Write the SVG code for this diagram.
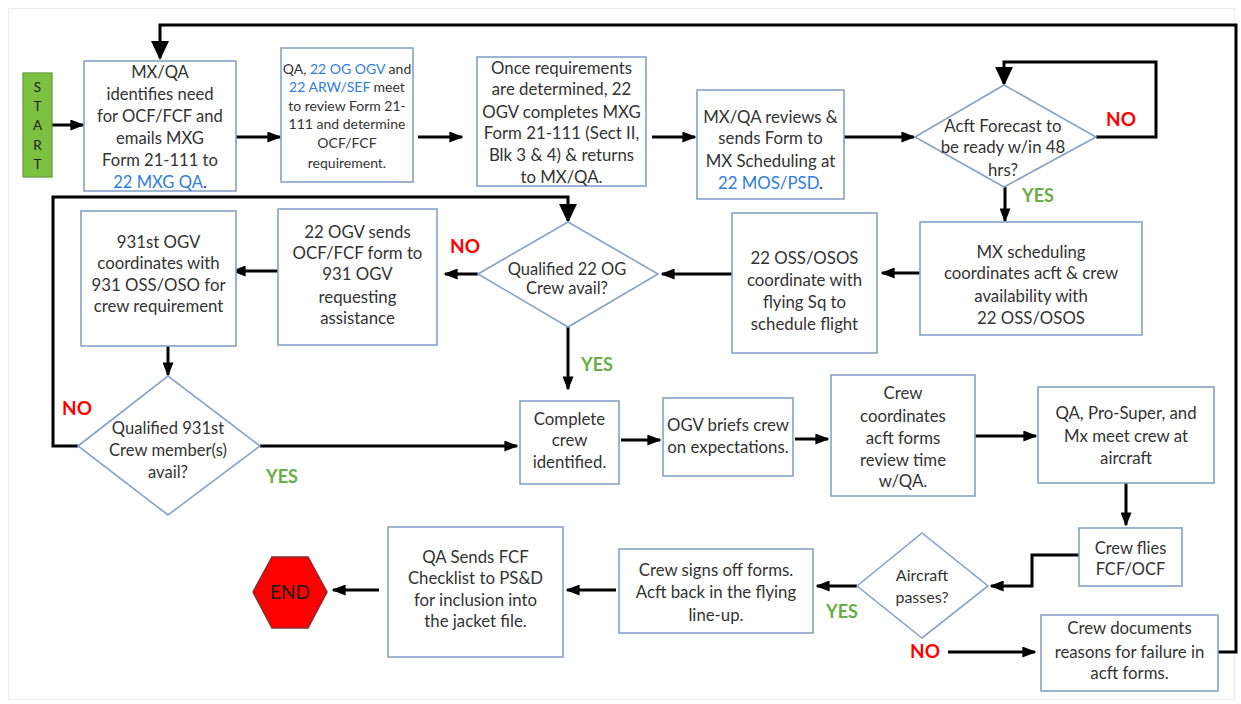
<svg xmlns="http://www.w3.org/2000/svg" width="1241" height="704" viewBox="0 0 1241 704">
<style>
.box{fill:#fff;stroke:#86a3c6;stroke-width:1.6}
.t{font-family:Lato,"Liberation Sans",sans-serif;fill:#333;text-anchor:middle}
.blue{fill:#2e7de0}
.no{font-family:Lato,"Liberation Sans",sans-serif;font-weight:bold;fill:#ff0000;font-size:19px;text-anchor:middle}
.yes{font-family:Lato,"Liberation Sans",sans-serif;font-weight:bold;fill:#6aac46;font-size:18px;text-anchor:middle}
.c{fill:none;stroke:#000;stroke-width:3}
.s{marker-end:url(#ah)}
.b{marker-end:url(#ahb)}
</style>
<defs>
<marker id="ah" viewBox="0 0 10 10" refX="9" refY="5" markerWidth="14" markerHeight="11" markerUnits="userSpaceOnUse" orient="auto" preserveAspectRatio="none"><path d="M0,0 L10,5 L0,10 z" fill="#000"/></marker>
<marker id="ahb" viewBox="0 0 10 10" refX="9" refY="5" markerWidth="19" markerHeight="18" markerUnits="userSpaceOnUse" orient="auto" preserveAspectRatio="none"><path d="M0,0 L10,5 L0,10 z" fill="#000"/></marker>
</defs>
<rect x="0" y="0" width="1241" height="704" fill="#fff"/>
<rect x="8.5" y="8.5" width="1226" height="691" fill="none" stroke="#ececec" stroke-width="1"/>

<g id="connectors">
<path class="c s" d="M52,125 H83"/>
<path class="c s" d="M236,137 H280"/>
<path class="c s" d="M418,137 H462"/>
<path class="c s" d="M652,137 H695"/>
<path class="c s" d="M844,137 H914"/>
<path class="c b" d="M1096,137 H1156 V62 H1004 V84"/>
<path class="c s" d="M1005,187 V221"/>
<path class="c s" d="M920,273 H882"/>
<path class="c s" d="M732,274 H662"/>
<path class="c s" d="M478,274 H445"/>
<path class="c s" d="M278,271 H233"/>
<path class="c s" d="M168,346 V375"/>
<path class="c b" d="M78,446 H53 V197 H568 V221"/>
<path class="c s" d="M260,446 H517"/>
<path class="c s" d="M568,327 V389"/>
<path class="c s" d="M621,440 H660"/>
<path class="c s" d="M795,439 H828"/>
<path class="c s" d="M975,436 H1036"/>
<path class="c s" d="M1126,483 V525"/>
<path class="c s" d="M1079,555 H1032 V586 H991"/>
<path class="c s" d="M857,586 H817"/>
<path class="c s" d="M616,590 H567"/>
<path class="c s" d="M379,590 H333"/>
<path class="c s" d="M948,652 H1035"/>
<path class="c b" d="M1218,652 H1236 V25 H160 V58"/>
</g>

<g id="start">
<rect x="23" y="73" width="29" height="104" fill="#7dc142" stroke="#5f9a33" stroke-width="1.2"/>
<text class="t" font-size="13.5" x="37.5" y="92" style="fill:#222">S</text>
<text class="t" font-size="13.5" x="37.5" y="111" style="fill:#222">T</text>
<text class="t" font-size="13.5" x="37.5" y="130" style="fill:#222">A</text>
<text class="t" font-size="13.5" x="37.5" y="150" style="fill:#222">R</text>
<text class="t" font-size="13.5" x="37.5" y="169" style="fill:#222">T</text>
</g>

<g id="n1">
<rect class="box" x="84" y="61" width="152" height="130"/>
<text class="t" font-size="16.6" x="160" y="78">MX/QA</text>
<text class="t" font-size="16.6" x="160" y="99.5">identifies need</text>
<text class="t" font-size="16.6" x="160" y="121.5">for OCF/FCF and</text>
<text class="t" font-size="16.6" x="160" y="143.5">emails MXG</text>
<text class="t" font-size="16.6" x="160" y="165.5">Form 21-111 to</text>
<text class="t" font-size="16.6" x="160" y="188"><tspan class="blue">22 MXG QA</tspan>.</text>
</g>

<g id="n2">
<rect class="box" x="281" y="48" width="132" height="134"/>
<text class="t" font-size="14" x="347" y="74">QA, <tspan class="blue">22 OG OGV</tspan> and</text>
<text class="t" font-size="14" x="347" y="92"><tspan class="blue">22 ARW/SEF</tspan> meet</text>
<text class="t" font-size="14" x="347" y="111">to review Form 21-</text>
<text class="t" font-size="14" x="347" y="129">111 and determine</text>
<text class="t" font-size="14" x="347" y="148">OCF/FCF</text>
<text class="t" font-size="14" x="347" y="168">requirement.</text>
</g>

<g id="n3">
<rect class="box" x="477" y="57" width="169" height="129"/>
<text class="t" font-size="16.8" x="561.5" y="74">Once requirements</text>
<text class="t" font-size="16.8" x="561.5" y="95">are determined, 22</text>
<text class="t" font-size="16.8" x="561.5" y="118">OGV completes MXG</text>
<text class="t" font-size="16.8" x="561.5" y="139">Form 21-111 (Sect II,</text>
<text class="t" font-size="16.8" x="561.5" y="161">Blk 3 &amp; 4) &amp; returns</text>
<text class="t" font-size="16.8" x="561.5" y="183">to MX/QA.</text>
</g>

<g id="n4">
<rect class="box" x="697" y="90" width="147" height="109"/>
<text class="t" font-size="16.8" x="770.5" y="123">MX/QA reviews &amp;</text>
<text class="t" font-size="16.8" x="770.5" y="144">sends Form to</text>
<text class="t" font-size="16.8" x="770.5" y="167">MX Scheduling at</text>
<text class="t" font-size="16.8" x="770.5" y="189"><tspan class="blue">22 MOS/PSD</tspan>.</text>
</g>

<g id="d1">
<polygon class="box" points="915,137 1004,85 1096,137 1004,187"/>
<text class="t" font-size="16.8" x="1003" y="131.5">Acft Forecast to</text>
<text class="t" font-size="16.8" x="1003" y="152.5">be ready w/in 48</text>
<text class="t" font-size="16.8" x="1003" y="175.5">hrs?</text>
</g>

<g id="n5">
<rect class="box" x="920" y="222" width="222" height="113"/>
<text class="t" font-size="16.8" x="1031" y="258">MX scheduling</text>
<text class="t" font-size="16.8" x="1031" y="279">coordinates acft &amp; crew</text>
<text class="t" font-size="16.8" x="1031" y="302">availability with</text>
<text class="t" font-size="16.8" x="1031" y="324">22 OSS/OSOS</text>
</g>

<g id="n6">
<rect class="box" x="732" y="213" width="145" height="140"/>
<text class="t" font-size="16.8" x="804.5" y="264">22 OSS/OSOS</text>
<text class="t" font-size="16.8" x="804.5" y="286">coordinate with</text>
<text class="t" font-size="16.8" x="804.5" y="308">flying Sq to</text>
<text class="t" font-size="16.8" x="804.5" y="330">schedule flight</text>
</g>

<g id="d2">
<polygon class="box" points="478,274 568,222 658,274 568,327"/>
<text class="t" font-size="16.5" x="567" y="274.5">Qualified 22 OG</text>
<text class="t" font-size="16.5" x="567" y="293.5">Crew avail?</text>
</g>

<g id="n7">
<rect class="box" x="278" y="209" width="159" height="136"/>
<text class="t" font-size="16.8" x="357.5" y="238">22 OGV sends</text>
<text class="t" font-size="16.8" x="357.5" y="259">OCF/FCF form to</text>
<text class="t" font-size="16.8" x="357.5" y="280">931 OGV</text>
<text class="t" font-size="16.8" x="357.5" y="303">requesting</text>
<text class="t" font-size="16.8" x="357.5" y="324">assistance</text>
</g>

<g id="n8">
<rect class="box" x="81" y="211" width="155" height="135"/>
<text class="t" font-size="16.8" x="158.5" y="248">931st OGV</text>
<text class="t" font-size="16.8" x="158.5" y="269">coordinates with</text>
<text class="t" font-size="16.8" x="158.5" y="291">931 OSS/OSO for</text>
<text class="t" font-size="16.8" x="158.5" y="312">crew requirement</text>
</g>

<g id="d3">
<polygon class="box" points="78,446 168,376 260,446 168,515"/>
<text class="t" font-size="16.6" x="168" y="433.5">Qualified 931st</text>
<text class="t" font-size="16.6" x="168" y="455.5">Crew member(s)</text>
<text class="t" font-size="16.6" x="168" y="477.5">avail?</text>
</g>

<g id="n9">
<rect class="box" x="520" y="401" width="99" height="83"/>
<text class="t" font-size="16.8" x="569.5" y="425">Complete</text>
<text class="t" font-size="16.8" x="569.5" y="446">crew</text>
<text class="t" font-size="16.8" x="569.5" y="468">identified.</text>
</g>

<g id="n10">
<rect class="box" x="663" y="398" width="130" height="78"/>
<text class="t" font-size="16.8" x="728" y="431">OGV briefs crew</text>
<text class="t" font-size="16.8" x="728" y="453">on expectations.</text>
</g>

<g id="n11">
<rect class="box" x="831" y="375" width="144" height="121"/>
<text class="t" font-size="16.8" x="903" y="399">Crew</text>
<text class="t" font-size="16.8" x="903" y="422">coordinates</text>
<text class="t" font-size="16.8" x="903" y="444">acft forms</text>
<text class="t" font-size="16.8" x="903" y="466">review time</text>
<text class="t" font-size="16.8" x="903" y="487">w/QA.</text>
</g>

<g id="n12">
<rect class="box" x="1038" y="387" width="176" height="96"/>
<text class="t" font-size="16.8" x="1126" y="419">QA, Pro-Super, and</text>
<text class="t" font-size="16.8" x="1126" y="442">Mx meet crew at</text>
<text class="t" font-size="16.8" x="1126" y="464">aircraft</text>
</g>

<g id="n13">
<rect class="box" x="1079" y="528" width="103" height="58"/>
<text class="t" font-size="16.5" x="1130.5" y="554">Crew flies</text>
<text class="t" font-size="16.5" x="1130.5" y="575">FCF/OCF</text>
</g>

<g id="d4">
<polygon class="box" points="857,586 922,533 988,586 922,638"/>
<text class="t" font-size="16" x="922" y="580.5">Aircraft</text>
<text class="t" font-size="16" x="922" y="602.5">passes?</text>
</g>

<g id="n14">
<rect class="box" x="619" y="549" width="194" height="84"/>
<text class="t" font-size="16.8" x="716" y="576">Crew signs off forms.</text>
<text class="t" font-size="16.8" x="716" y="598">Acft back in the flying</text>
<text class="t" font-size="16.8" x="716" y="621">line-up.</text>
</g>

<g id="n15">
<rect class="box" x="388" y="527" width="175" height="130"/>
<text class="t" font-size="16.8" x="475.5" y="563">QA Sends FCF</text>
<text class="t" font-size="16.8" x="475.5" y="584">Checklist to PS&amp;D</text>
<text class="t" font-size="16.8" x="475.5" y="606">for inclusion into</text>
<text class="t" font-size="16.8" x="475.5" y="627">the jacket file.</text>
</g>

<g id="end">
<polygon points="253,592 272,557 308,557 327,592 308,628 272,628" fill="#ff0000" stroke="#8a2a2a" stroke-width="1.5"/>
<text class="t" font-size="19" x="290" y="599" style="fill:#1a1a1a">END</text>
</g>

<g id="n16">
<rect class="box" x="1041" y="615" width="177" height="76"/>
<text class="t" font-size="16.8" x="1129.5" y="634">Crew documents</text>
<text class="t" font-size="16.8" x="1129.5" y="658">reasons for failure in</text>
<text class="t" font-size="16.8" x="1129.5" y="679">acft forms.</text>
</g>

<g id="labels">
<text class="no" x="1121" y="126">NO</text>
<text class="yes" x="1038" y="202">YES</text>
<text class="no" x="465" y="253">NO</text>
<text class="yes" x="597" y="371">YES</text>
<text class="no" x="77" y="415">NO</text>
<text class="yes" x="282" y="483">YES</text>
<text class="yes" x="842" y="618">YES</text>
<text class="no" x="925" y="658">NO</text>
</g>
</svg>
